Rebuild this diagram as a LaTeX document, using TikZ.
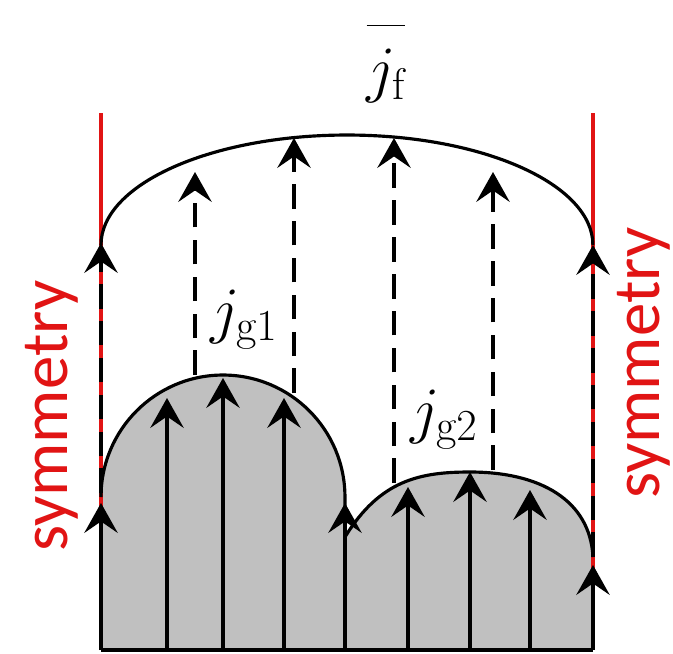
\RequirePackage{fix-cm}
\documentclass[tikz,border=0pt]{standalone}
\usepackage{fontspec}
\newfontfamily\symfont{Carlito}
\usetikzlibrary{arrows.meta}
\definecolor{symred}{RGB}{225,20,20}
\definecolor{grainfill}{RGB}{192,192,192}
\begin{document}
\begin{tikzpicture}[x=0.02cm,y=-0.02cm,
  flux/.style={line width=1.9pt,-{Stealth[length=17pt,width=19pt,inset=6.5pt]}},
  dashflux/.style={flux,dash pattern=on 14pt off 7pt},
  bound/.style={line width=1.8pt},
  symline/.style={symred,line width=2.2pt},
  symtext/.style={symred,rotate=90,anchor=base west,inner sep=0pt,
    font=\symfont\fontsize{38}{38}\selectfont},
  lab/.style={anchor=base,inner sep=0pt,font=\fontsize{36}{36}\selectfont}]
\useasboundingbox (0,0) rectangle (673,653);

% grains
\fill[grainfill] (101,650) -- (101,497) arc[start angle=180,end angle=0,x radius=2.44cm,y radius=2.44cm] -- (345,650) -- cycle;
\fill[grainfill] (345,650) -- (345,537) .. controls (380,480) and (420,472) .. (470,472)
  .. controls (540,472) and (590,500) .. (593,557) -- (593,650) -- cycle;

% symmetry planes
\draw[symline] (101,113) -- (101,650);
\draw[symline] (593,113) -- (593,650);

% outlines
\draw[bound] (101,497) arc[start angle=180,end angle=0,x radius=2.44cm,y radius=2.44cm] -- (345,650);
\draw[bound] (345,537) .. controls (380,480) and (420,472) .. (470,472)
  .. controls (540,472) and (590,500) .. (593,557);
\draw[bound] (101,245) arc[start angle=180,end angle=0,x radius=4.92cm,y radius=2.2cm];
\draw[bound] (101,650) -- (593,650);

% fluxes inside the grains
\draw[flux] (101,650) -- (101,503);
\draw[flux] (167,650) -- (167,398);
\draw[flux] (223,650) -- (223,378);
\draw[flux] (284,650) -- (284,398);
\draw[flux] (345,650) -- (345,503);
\draw[flux] (408,650) -- (408,487);
\draw[flux] (470,650) -- (470,472);
\draw[flux] (530,650) -- (530,490);
\draw[flux] (593,650) -- (593,565);

% fluxes in the film
\draw[dashflux] (101,493) -- (101,243);
\draw[dashflux] (195,375) -- (195,172);
\draw[dashflux] (294,393) -- (294,138);
\draw[dashflux] (394,483) -- (394,138);
\draw[dashflux] (493,470) -- (493,172);
\draw[dashflux] (593,557) -- (593,245);

% labels
\node[lab] (jf) at (386,90) {$\overline{\rule{0pt}{0.98em}j_{\mathrm{f}}}$};
\node[lab] (jg1) at (244,331) {$j_{\mathrm{g}1}$};
\node[lab] (jg2) at (444,431) {$j_{\mathrm{g}2}$};
\node[symtext] (symL) at (67,552) {symmetry};
\node[symtext] (symR) at (659,499) {symmetry};
\end{tikzpicture}
\end{document}
